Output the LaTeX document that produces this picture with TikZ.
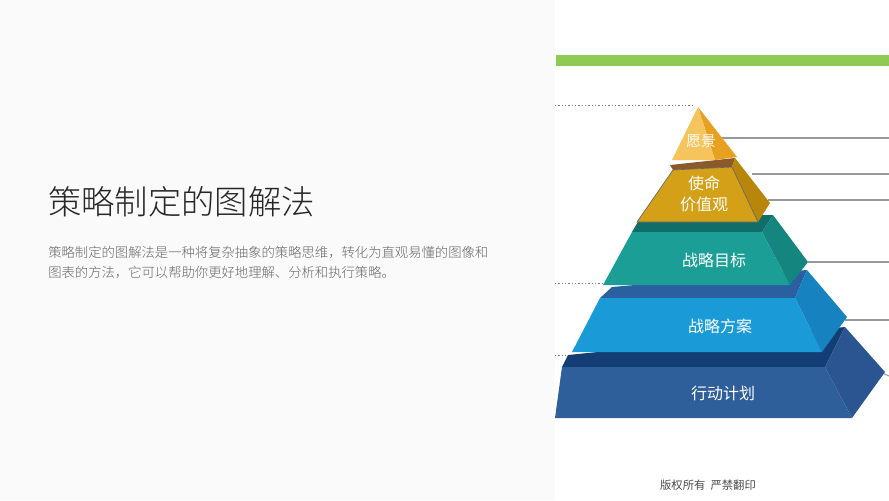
\documentclass[tikz,border=0pt]{standalone}
\usepackage{fontspec}
\newfontfamily\cjk{Noto Sans CJK SC}
\newfontfamily\cjkl{Noto Sans CJK SC Light}
\definecolor{gA}{HTML}{8FCB52}
\definecolor{c5t}{RGB}{18,62,117}
\definecolor{c5s}{RGB}{42,85,144}
\definecolor{c5f}{RGB}{46,95,154}
\definecolor{c4t}{RGB}{42,95,160}
\definecolor{c4s}{RGB}{22,131,192}
\definecolor{c4f}{RGB}{26,154,214}
\definecolor{c3t}{RGB}{15,110,104}
\definecolor{c3s}{RGB}{21,133,127}
\definecolor{c3f}{RGB}{26,158,150}
\definecolor{c2t}{RGB}{139,90,43}
\definecolor{c2s}{RGB}{184,134,11}
\definecolor{c2f}{RGB}{212,160,23}
\definecolor{c1s}{RGB}{232,160,32}
\definecolor{c1f}{RGB}{246,196,92}
\begin{document}
\begin{tikzpicture}[x=0.75pt,y=-0.75pt,
  lbl/.style={text=white,font=\cjk\fontsize{12}{14}\selectfont,align=center},
  rl/.style={draw=gray!80,line width=0.8pt},
  dl/.style={draw=gray,dash pattern=on 1pt off 1.5pt,line width=0.6pt}]
\useasboundingbox (0,0) rectangle (889,500);
\fill[black!2] (0,0) rectangle (555,500);
\fill[white] (555,0) rectangle (889,500);
\fill[gA] (556,55) rectangle (889,66);
% right lines
\coordinate (r1) at (718,138); \coordinate (r1e) at (889,138);
\coordinate (r2) at (752,174); \coordinate (r2e) at (889,174);
\coordinate (r3) at (768,200); \coordinate (r3e) at (889,200);
\coordinate (r4) at (808,262); \coordinate (r4e) at (889,262);
\coordinate (r5) at (845,320); \coordinate (r5e) at (889,320);
\coordinate (r6) at (880,372); \coordinate (r6e) at (889,376);
\foreach \a in {1,...,6} \draw[rl] (r\a) -- (r\a e);
\coordinate (d1) at (555,105); \coordinate (d1e) at (692,105);
\coordinate (d2) at (555,283); \coordinate (d2e) at (603,283);
\coordinate (d3) at (555,355); \coordinate (d3e) at (568,355);
\foreach \a in {1,2,3} \draw[dl] (d\a) -- (d\a e);
% layer 5
\fill[c5t] (568,355) -- (845,327) -- (825,367) -- (562,367) -- cycle;
\fill[c5s] (825,367) -- (845,327) -- (885,372) -- (852,418) -- cycle;
\fill[c5f] (562,367) -- (825,367) -- (852,418) -- (555,418) -- cycle;
\node[lbl] (a5) at (723,393) {行动计划};
% layer 4
\fill[c4t] (612,287) -- (807,270) -- (795,298) -- (600,298) -- cycle;
\fill[c4s] (795,298) -- (807,270) -- (847,317) -- (822,352) -- cycle;
\fill[c4f] (600,298) -- (795,298) -- (822,352) -- (572,352) -- cycle;
\node[lbl] (a4) at (720,326) {战略方案};
% layer 3
\fill[c3t] (642,215) -- (773,215) -- (762,232) -- (632,232) -- cycle;
\fill[c3s] (762,232) -- (773,215) -- (808,262) -- (790,285) -- cycle;
\fill[c3f] (632,232) -- (762,232) -- (790,285) -- (603,285) -- cycle;
\node[lbl] (a3) at (714,260) {战略目标};
% layer 2
\fill[c2t] (670,165) -- (735,158) -- (732,167) -- (673,170) -- cycle;
\fill[c2s] (732,167) -- (735,158) -- (770,203) -- (758,222) -- cycle;
\fill[c2f] (673,170) -- (732,167) -- (758,222) -- (637,222) -- cycle;
\draw[black!60,line width=0.5pt] (673,170) -- (732,167) -- (758,222) -- (637,222) -- cycle;
\node[lbl,font=\cjk\fontsize{12}{16}\selectfont] (a2) at (704,194) {使命\\价值观};
% layer 1
\fill[c1s] (698,107) -- (737,157) -- (715,160) -- cycle;
\fill[c1f] (698,107) -- (715,160) -- (672,160) -- cycle;
\node[lbl,font=\cjk\fontsize{11}{13}\selectfont] (a1) at (701,141) {愿景};
% texts
\node[anchor=west,font=\cjkl\fontsize{25}{30}\selectfont,text=black!85,inner sep=0] (t) at (48,202) {策略制定的图解法};
\node[anchor=north west,align=left,font=\cjkl\fontsize{10}{15}\selectfont,text=black!60,inner sep=0] (b) at (48,246) {策略制定的图解法是一种将复杂抽象的策略思维，转化为直观易懂的图像和\\图表的方法，它可以帮助你更好地理解、分析和执行策略。};
\node[font=\cjk\fontsize{8.5}{10}\selectfont,text=black!70] (c) at (708,485) {版权所有\ \ 严禁翻印};
\end{tikzpicture}
\end{document}
